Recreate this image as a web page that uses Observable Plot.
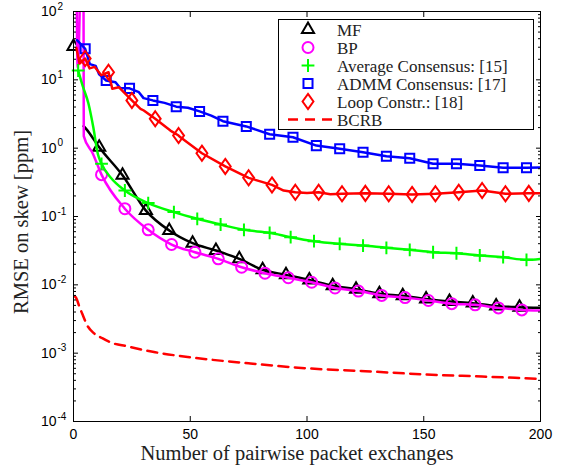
<!DOCTYPE html>
<html><head><meta charset="utf-8">
<script src="https://cdn.jsdelivr.net/npm/d3@7"></script>
<script src="https://cdn.jsdelivr.net/npm/@observablehq/plot@0.6"></script>
<style>body{margin:0;background:#fff}#chart{width:572px;height:471px}</style>
</head><body><div id="chart"></div>
<script>
// ---------- data ----------
const xTicks = [0, 50, 100, 150, 200];
const yMajor = [1e-4, 1e-3, 1e-2, 1e-1, 1, 10, 100];
const yExp = ["-4", "-3", "-2", "-1", "0", "1", "2"];
const xTitle = "Number of pairwise packet exchanges";
const yTitle = "RMSE on skew [ppm]";
const legendLabels = ["MF", "BP", "Average Consensus: [15]", "ADMM Consensus: [17]", "Loop Constr.: [18]", "BCRB"];

// MF: first marker at x=0; the drawn curve starts at x=4.35
const mfX = [0, 4.35, 5.4, 11, 21, 31, 41, 51, 61, 71, 81, 91, 101, 111, 121, 131, 141, 151, 161, 171, 181, 191, 200];
const mfY = [30.8, 2.1, 1.92, 1.03, 0.40, 0.122, 0.0624, 0.0407, 0.0318, 0.024, 0.0166, 0.0140, 0.0118, 0.0097, 0.0086, 0.0074, 0.0069, 0.0062, 0.0057, 0.0054, 0.0049, 0.0047, 0.0046];
const mfLineFrom = 4.35;
const mfMarkX = [0, 11, 21, 31, 41, 51, 61, 71, 81, 91, 101, 111, 121, 131, 141, 151, 161, 171, 181, 191];

const bpX = [1, 1.8, 4.2, 4.4, 8.3, 12, 22, 32, 42, 52, 62, 72, 82, 92, 102, 112, 122, 132, 142, 152, 162, 172, 182, 192, 200];
const bpY = [1e4, 15, 1e4, 1.5, 0.83, 0.41, 0.130, 0.0638, 0.0389, 0.030, 0.024, 0.0181, 0.0148, 0.0127, 0.0109, 0.0090, 0.0081, 0.0070, 0.0065, 0.0059, 0.0053, 0.0051, 0.0046, 0.0043, 0.0042];
const bpMarkX = [12, 22, 32, 42, 52, 62, 72, 82, 92, 102, 112, 122, 132, 142, 152, 162, 172, 182, 192];

const avgX = [2, 4, 6.4, 8.5, 10.4, 12, 16, 22, 32, 43, 53, 63, 73, 84, 93, 103, 114, 124, 134, 144, 154, 164, 174, 184, 194, 200];
const avgY = [13.7, 8.0, 4.5, 2.0, 0.83, 0.59, 0.37, 0.24, 0.157, 0.116, 0.0925, 0.0764, 0.0638, 0.0577, 0.0498, 0.0435, 0.0398, 0.0376, 0.0348, 0.0325, 0.030, 0.029, 0.0269, 0.0254, 0.0232, 0.024];
const avgMarkX = [2, 12, 22, 32, 43, 53, 63, 73, 84, 93, 103, 114, 124, 134, 144, 154, 164, 174, 184, 194];

const admmX = [1.5, 5, 7, 9.5, 11, 14, 18, 20, 24, 28, 30, 34, 39, 44, 49, 54, 59, 64, 74, 84, 94, 104, 114, 124, 134, 144, 154, 164, 174, 184, 194, 200];
const admmY = [38, 28.5, 17, 16, 12, 9.8, 9.2, 7.6, 7.5, 6.6, 5.4, 5.0, 4.6, 4.05, 3.9, 3.45, 3.0, 2.48, 2.08, 1.6, 1.445, 1.09, 0.98, 0.873, 0.762, 0.713, 0.59, 0.59, 0.557, 0.516, 0.516, 0.52];
const admmMarkX = [5, 14, 24, 34, 44, 54, 64, 74, 84, 94, 104, 114, 124, 134, 144, 154, 164, 174, 184, 194];

const loopX = [1.2, 2.6, 5, 6.9, 9, 11.9, 15, 16.6, 19.4, 25, 28.7, 30.1, 35, 41.5, 45, 45.8, 55, 65, 75, 85, 90, 95, 100, 105, 110, 115, 125, 135, 145, 155, 165, 175, 185, 195, 200];
const loopY = [29.4, 17.3, 20.5, 14.7, 15.5, 11.7, 12.9, 7.4, 7.8, 5.0, 3.77, 3.56, 2.69, 1.81, 1.53, 1.44, 0.843, 0.54, 0.368, 0.29, 0.24, 0.226, 0.22, 0.226, 0.212, 0.215, 0.218, 0.215, 0.21, 0.215, 0.226, 0.24, 0.215, 0.218, 0.218];
const loopMarkX = [5, 15, 25, 35, 45, 55, 65, 75, 85, 95, 105, 115, 125, 135, 145, 155, 165, 175, 185, 195];

const bcrbX = [0.5, 1.2, 2.5, 3.7, 5.9, 8.7, 12, 15.8, 23, 35, 50, 75, 100, 125, 150, 175, 200];
const bcrbY = [0.0068, 0.0064, 0.0048, 0.0038, 0.00254, 0.00196, 0.00168, 0.00144, 0.00126, 0.00103, 0.00087, 0.00071, 0.0006, 0.000545, 0.00049, 0.000455, 0.00042];

// ---------- helpers ----------
const pts = (xs, ys) => xs.map((x, i) => ({x, y: ys[i]}));
const marksOf = (xs, ys, mx) => pts(xs, ys).filter(d => mx.includes(d.x));
const yMinor = [];
for (let e = -4; e < 2; e++) for (let m = 2; m <= 9; m++) yMinor.push(m * Math.pow(10, e));

// Matlab-like diamond (wider than d3's)
const diamondM = {draw(ctx, size) {
  const h = Math.sqrt(size) * 0.82, w = h * 0.72;
  ctx.moveTo(0, -h); ctx.lineTo(w, 0); ctx.lineTo(0, h); ctx.lineTo(-w, 0); ctx.closePath();
}};

const C = {mf: "#000000", bp: "#ff00ff", avg: "#00ff00", admm: "#0000ff", loop: "#ff0000"};
const LW = 2.5, MW = 2;
const sans = "Liberation Sans, Arial, Helvetica, sans-serif";
const serif = "Liberation Serif, Times New Roman, serif";

const series = [
  {x: mfX, y: mfY, m: mfMarkX, from: mfLineFrom, c: C.mf, sym: "triangle", r: 4.5, curve: "monotone-x"},
  {x: bpX, y: bpY, m: bpMarkX, from: -Infinity, c: C.bp, sym: "circle", r: 5.5, curve: "monotone-x"},
  {x: avgX, y: avgY, m: avgMarkX, from: -Infinity, c: C.avg, sym: "plus", r: 4.2, curve: "monotone-x"},
  {x: admmX, y: admmY, m: admmMarkX, from: -Infinity, c: C.admm, sym: "square", r: 5.1, curve: "linear"},
  {x: loopX, y: loopY, m: loopMarkX, from: -Infinity, c: C.loop, sym: diamondM, r: 5.2, curve: "linear"}
];

const dataMarks = [];
for (const s of series) {
  dataMarks.push(Plot.line(pts(s.x, s.y).filter(d => d.x >= s.from), {x: "x", y: "y", stroke: s.c, strokeWidth: LW, curve: s.curve, clip: true}));
  dataMarks.push(Plot.dot(marksOf(s.x, s.y, s.m), {x: "x", y: "y", symbol: () => s.sym, r: s.r, fill: "none", stroke: s.c, strokeWidth: MW}));
}
dataMarks.push(Plot.line(pts(bcrbX, bcrbY), {x: "x", y: "y", stroke: C.loop, strokeWidth: 2.5, strokeDasharray: "10,6.5", curve: "monotone-x", clip: true}));

const chart = Plot.plot({
  width: 572, height: 471,
  marginLeft: 73, marginRight: 32, marginTop: 11, marginBottom: 50,
  style: {background: "white", fontFamily: sans, overflow: "visible"},
  x: {domain: [0, 200], label: null},
  y: {type: "log", domain: [1e-4, 1e2], label: null},
  symbol: {type: "identity"},
  marks: [
    ...dataMarks,
    Plot.frame({stroke: "black", strokeWidth: 1}),
    Plot.axisX({ticks: xTicks, anchor: "bottom", tickSize: -5, tickFormat: () => "", label: null}),
    Plot.axisX({ticks: xTicks, anchor: "top", tickSize: -5, tickFormat: () => "", label: null}),
    Plot.axisX({ticks: xTicks, anchor: "bottom", tickSize: 0, tickPadding: 8, fontSize: 14, fontFamily: sans, label: null, tickFormat: d => String(d)}),
    Plot.axisY({ticks: yMajor, anchor: "left", tickSize: -5, tickFormat: () => "", label: null}),
    Plot.axisY({ticks: yMajor, anchor: "right", tickSize: -5, tickFormat: () => "", label: null}),
    Plot.axisY({ticks: yMinor, anchor: "left", tickSize: -3, tickFormat: () => "", label: null}),
    Plot.axisY({ticks: yMinor, anchor: "right", tickSize: -3, tickFormat: () => "", label: null}),
    Plot.axisY({ticks: yMajor, anchor: "left", tickSize: 0, tickPadding: 17, tickFormat: () => "10", fontSize: 14, fontFamily: sans, label: null}),
    Plot.text(yMajor, {y: d => d, frameAnchor: "left", text: (d, i) => yExp[i], textAnchor: "start", dx: -16, dy: -5, fontSize: 10, fontFamily: sans, fill: "black"})
  ]
});

document.getElementById("chart").appendChild(chart);

// ---------- titles & legend ----------
const svg = d3.select(chart);
svg.append("text").attr("x", 297).attr("y", 460).attr("text-anchor", "middle")
  .attr("font-family", serif).attr("font-size", 20.5).attr("fill", "#222").text(xTitle);
svg.append("text").attr("transform", "translate(28,222) rotate(-90)").attr("text-anchor", "middle")
  .attr("font-family", serif).attr("font-size", 20.5).attr("fill", "#222").text(yTitle);

const lg = svg.append("g");
lg.append("rect").attr("x", 278.5).attr("y", 19.5).attr("width", 255).attr("height", 110)
  .attr("fill", "white").attr("stroke", "black").attr("stroke-width", 1);
const legSyms = [
  {t: d3.symbolTriangle, s: Math.PI * 4.5 * 4.5, c: C.mf},
  {t: d3.symbolCircle, s: Math.PI * 5.5 * 5.5, c: C.bp},
  {t: d3.symbolPlus, s: Math.PI * 4.2 * 4.2, c: C.avg},
  {t: d3.symbolSquare, s: Math.PI * 5.1 * 5.1, c: C.admm},
  {t: diamondM, s: Math.PI * 5.2 * 5.2, c: C.loop},
  null
];
legendLabels.forEach((lab, i) => {
  const yy = 29.5 + i * 18;
  const sm = legSyms[i];
  if (sm) {
    lg.append("path").attr("d", d3.symbol(sm.t, sm.s)()).attr("transform", `translate(308,${yy})`)
      .attr("fill", "none").attr("stroke", sm.c).attr("stroke-width", MW);
  } else {
    lg.append("line").attr("x1", 288).attr("x2", 332).attr("y1", yy).attr("y2", yy)
      .attr("stroke", C.loop).attr("stroke-width", 2.5).attr("stroke-dasharray", "10,7");
  }
  lg.append("text").attr("x", 337).attr("y", yy + 6).attr("text-anchor", "start").attr("font-family", serif)
    .attr("font-size", 17).attr("fill", "#222").text(lab);
});
</script></body></html>
